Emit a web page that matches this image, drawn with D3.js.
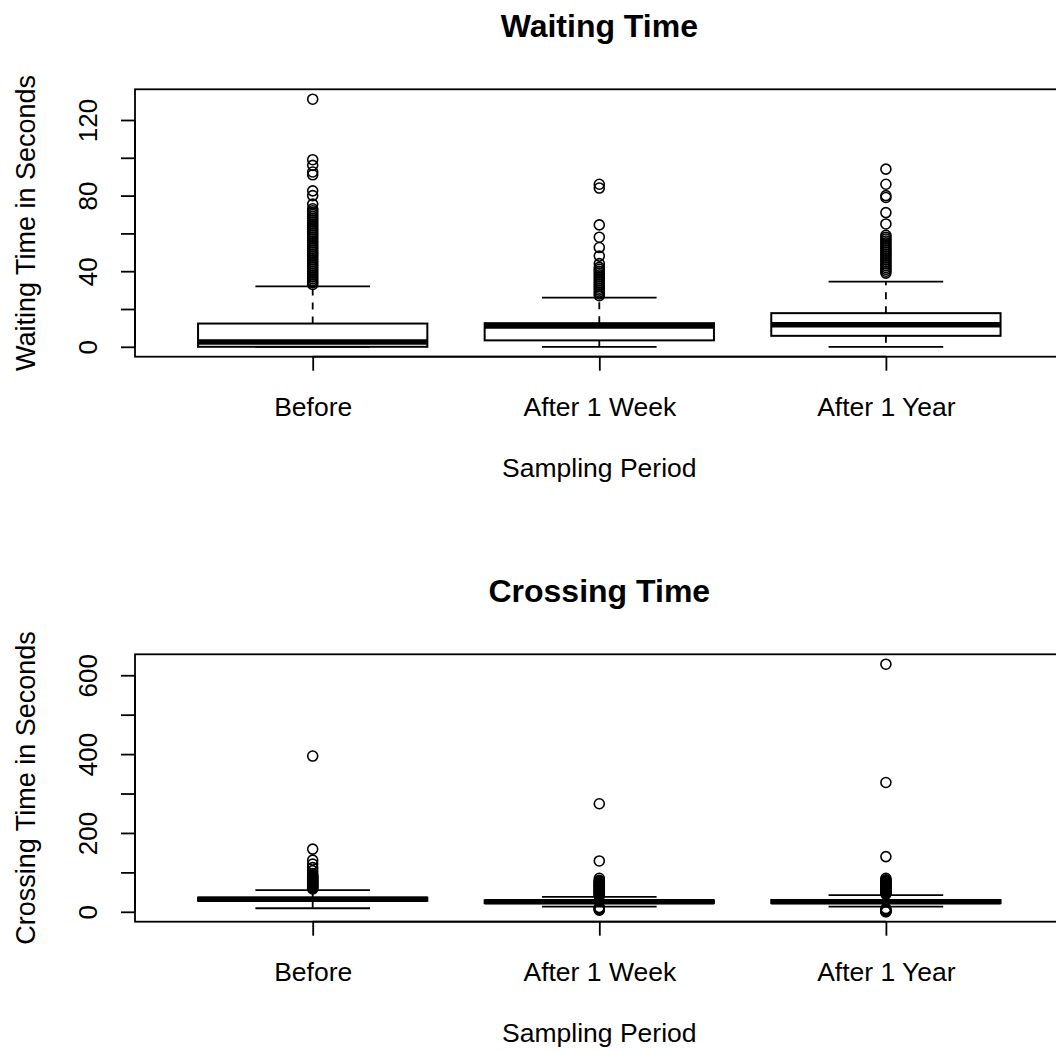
<!DOCTYPE html>
<html><head><meta charset="utf-8">
<script src="https://cdn.jsdelivr.net/npm/d3@7"></script>
<style>
body{margin:0;background:#fff}
text{font-family:"Liberation Sans",Arial,sans-serif;fill:#000}
</style>
</head><body>
<svg id="c" width="1056" height="1051"></svg>
<script>
// ---------- data ----------
const categories = ["Before", "After 1 Week", "After 1 Year"];

// Waiting time summary (lower whisker, Q1, median, Q3, upper whisker)
const waitLower  = [0, 0, 0];
const waitQ1     = [0, 3.4, 5.8];
const waitMedian = [2.5, 11, 11.6];
const waitQ3     = [12.3, 12.5, 17.8];
const waitUpper  = [32, 26, 34.5];
const waitOutBefore = [33,34,35,36,37,38,39,40,41,42,43,44,45,46,47,48,49,50,51,52,53,54,55,56,57,58,59,60,61,62,63,64,65,66,67,68,69,70,71,72,73,75.5,80,82.5,91,92.5,96,99,131];
const waitOutWeek   = [27,28,29,30,31,32,33,34,35,36,37,38,39,40,41,42,44,48,52.5,58,64.5,84,86];
const waitOutYear   = [39,40,41,42,43,44,45,46,47,48,49,50,51,52,53,54,55,56,57,58,59,65,71,79,80,86,94];
const waitTicks = [0,20,40,60,80,100,120];
const waitTickLabels = [0,40,80,120];

// Crossing time summary
const crossLower  = [9, 13, 13];
const crossQ1     = [28, 22, 22];
const crossMedian = [32, 25.5, 25.5];
const crossQ3     = [36, 29, 30];
const crossUpper  = [55, 38, 42.5];
const crossOutBefore = [58,60,62,64,66,68,70,72,74,76,78,80,82,84,86,88,90,93,97,104,112,121,131,159,395];
const crossOutWeek   = [4,6,8,10,11,40,42,44,46,48,50,52,54,56,58,60,62,64,66,68,70,72,74,76,78,80,85,129,274];
const crossOutYear   = [0,1,2,3,5,8,45,47,49,51,53,55,57,59,61,63,65,67,69,71,73,75,77,79,81,85,140,328,628];
const crossTicks = [0,100,200,300,400,500,600];
const crossTickLabels = [0,200,400,600];

// ---------- drawing ----------
const svg = d3.select("#c");
const left = 135, right = 1063.6;
const x = d3.scaleLinear().domain([0.38, 3.62]).range([left, right]);
const boxW = 0.8, stapleW = 0.4;
const FONT = '"Liberation Sans",Arial,sans-serif';

function panel(o) {
  const top = o.top, bottom = o.top + 267.4;
  const all = [].concat(o.lower, o.upper, ...o.out);
  const mn = d3.min(all), mx = d3.max(all), r = mx - mn;
  const y = d3.scaleLinear().domain([mn - 0.04 * r, mx + 0.04 * r]).range([bottom, top]);
  const g = svg.append("g");

  categories.forEach((c, i) => {
    const cx = i + 1;
    const bx0 = x(cx - boxW / 2), bx1 = x(cx + boxW / 2);
    const sx0 = x(cx - stapleW / 2), sx1 = x(cx + stapleW / 2);
    g.append("line").attr("x1", x(cx)).attr("x2", x(cx)).attr("y1", y(o.q3[i])).attr("y2", y(o.upper[i]))
      .attr("stroke", "#000").attr("stroke-width", 1.8).attr("stroke-dasharray", "7,7");
    g.append("line").attr("x1", x(cx)).attr("x2", x(cx)).attr("y1", y(o.q1[i])).attr("y2", y(o.lower[i]))
      .attr("stroke", "#000").attr("stroke-width", 1.8).attr("stroke-dasharray", "7,7");
    [o.upper[i], o.lower[i]].forEach(v => {
      g.append("line").attr("x1", sx0).attr("x2", sx1).attr("y1", y(v)).attr("y2", y(v))
        .attr("stroke", "#000").attr("stroke-width", 1.8);
    });
    g.append("rect").attr("x", bx0).attr("width", bx1 - bx0)
      .attr("y", y(o.q3[i])).attr("height", y(o.q1[i]) - y(o.q3[i]))
      .attr("fill", "none").attr("stroke", "#000").attr("stroke-width", 2);
    g.append("line").attr("x1", bx0).attr("x2", bx1).attr("y1", y(o.med[i])).attr("y2", y(o.med[i]))
      .attr("stroke", "#000").attr("stroke-width", 5.5);
    g.selectAll(null).data(o.out[i]).enter().append("circle")
      .attr("cx", x(cx)).attr("cy", d => y(d)).attr("r", 5)
      .attr("fill", "none").attr("stroke", "#000").attr("stroke-width", 1.6);
  });

  g.append("rect").attr("x", left).attr("y", top).attr("width", right - left).attr("height", bottom - top)
    .attr("fill", "none").attr("stroke", "#000").attr("stroke-width", 1.8);

  const xa = g.append("g").attr("transform", `translate(0,${bottom})`)
    .call(d3.axisBottom(x).tickValues([1, 2, 3]).tickFormat((d, i) => categories[i]).tickSize(14).tickSizeOuter(0));
  xa.select(".domain").remove();
  xa.selectAll("line").attr("stroke", "#000").attr("stroke-width", 1.8);
  xa.selectAll("text").attr("y", 59.5).attr("dy", 0).style("font-size", "26.5px")
    .style("font-family", FONT).attr("fill", "#000");
  xa.append("line").attr("x1", x(1)).attr("x2", x(3)).attr("stroke", "#000").attr("stroke-width", 1.8);

  const ya = g.append("g").attr("transform", `translate(${left},0)`)
    .call(d3.axisLeft(y).tickValues(o.ticks).tickFormat(d => o.labels.includes(d) ? d : "").tickSize(14).tickSizeOuter(0));
  ya.select(".domain").remove();
  ya.selectAll("line").attr("stroke", "#000").attr("stroke-width", 1.8);
  ya.selectAll("text").attr("x", 0).attr("dy", 0).attr("text-anchor", "middle")
    .attr("transform", "translate(-38,0) rotate(-90)")
    .style("font-size", "26px").style("font-family", FONT).attr("fill", "#000");
  ya.append("line").attr("y1", y(o.ticks[0])).attr("y2", y(o.ticks[o.ticks.length - 1]))
    .attr("stroke", "#000").attr("stroke-width", 1.8);

  const cxm = (left + right) / 2;
  g.append("text").attr("x", cxm).attr("y", top - 52.3).attr("text-anchor", "middle")
    .style("font-size", "32px").style("font-weight", "bold").text(o.title);
  g.append("text").attr("x", cxm).attr("y", bottom + 120).attr("text-anchor", "middle")
    .style("font-size", "26.5px").text("Sampling Period");
  g.append("text").attr("transform", `translate(35,${(top + bottom) / 2}) rotate(-90)`)
    .attr("text-anchor", "middle").style("font-size", "27px").text(o.ylab);
}

panel({
  top: 89.3, title: "Waiting Time", ylab: "Waiting Time in Seconds",
  lower: waitLower, q1: waitQ1, med: waitMedian, q3: waitQ3, upper: waitUpper,
  out: [waitOutBefore, waitOutWeek, waitOutYear], ticks: waitTicks, labels: waitTickLabels
});
panel({
  top: 654.3, title: "Crossing Time", ylab: "Crossing Time in Seconds",
  lower: crossLower, q1: crossQ1, med: crossMedian, q3: crossQ3, upper: crossUpper,
  out: [crossOutBefore, crossOutWeek, crossOutYear], ticks: crossTicks, labels: crossTickLabels
});
</script>
</body></html>
